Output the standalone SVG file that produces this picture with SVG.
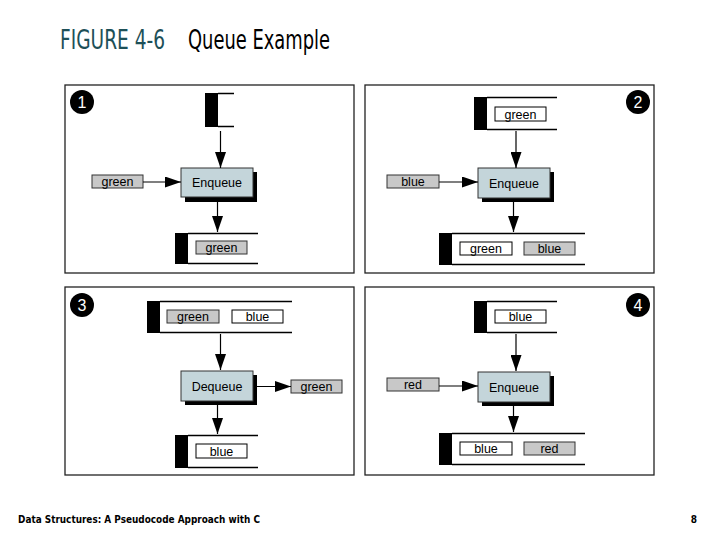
<svg xmlns="http://www.w3.org/2000/svg" width="720" height="540" viewBox="0 0 720 540">
<style>
.panel{fill:#fff;stroke:#222;stroke-width:1.3}
.op{fill:#c4d5da;stroke:#333;stroke-width:1}
.sh{fill:#000}
.gbox{fill:#c8c8c8;stroke:#333;stroke-width:1}
.wbox{fill:#fff;stroke:#000;stroke-width:1}
.lbl{font-family:"Liberation Sans",Arial,sans-serif;font-size:12.5px;fill:#000;text-anchor:middle}
.opl{font-family:"Liberation Sans",Arial,sans-serif;font-size:12.5px;fill:#000;text-anchor:middle}
.num{font-family:"Liberation Sans",Arial,sans-serif;font-size:16px;fill:#fff;text-anchor:middle}
.bar{fill:#000}
.ql{stroke:#000;stroke-width:1.5;fill:none}
.conn{stroke:#000;stroke-width:1.2;fill:none;marker-end:url(#ah)}
</style>
<defs>
<marker id="ah" markerUnits="userSpaceOnUse" markerWidth="16" markerHeight="11" refX="16" refY="5.5" orient="auto">
<path d="M0,0 L16,5.5 L0,11 Z" fill="#000"/>
</marker>
</defs>
<rect width="720" height="540" fill="#fff"/>
<g id="title">
<text x="60" y="49" font-family="DejaVu Sans Condensed, Liberation Sans, sans-serif" font-size="26" fill="#1d5058" textLength="105" lengthAdjust="spacingAndGlyphs">FIGURE 4-6</text>
<text x="188" y="49" font-family="DejaVu Sans Condensed, Liberation Sans, sans-serif" font-size="26" fill="#000" textLength="142" lengthAdjust="spacingAndGlyphs">Queue Example</text>
</g>

<!-- Panel 1 -->
<g id="panel1">
<rect class="panel" x="65" y="85" width="289" height="188"/>
<circle cx="82" cy="102" r="12" fill="#000"/>
<text class="num" x="82" y="108">1</text>
</g>
<g id="p1-queue-in">
<rect class="bar" x="205" y="93" width="13" height="34"/>
<path class="ql" d="M218,93.5 H234 M218,126.5 H234"/>
</g>
<g id="p1-op">
<rect class="sh" x="185" y="172" width="72" height="30"/>
<rect class="op" x="181" y="168" width="72" height="29"/>
<text class="opl" x="217" y="187">Enqueue</text>
</g>
<g id="p1-item">
<rect class="gbox" x="92" y="175" width="51" height="13"/>
<text class="lbl" x="117.5" y="186">green</text>
</g>
<g id="p1-queue-out">
<rect class="bar" x="175" y="233" width="13" height="31"/>
<path class="ql" d="M188,233.5 H258 M188,263.5 H258"/>
<rect class="gbox" x="196" y="241" width="51" height="13"/>
<text class="lbl" x="221.5" y="252">green</text>
</g>

<!-- Panel 2 -->
<g id="panel2">
<rect class="panel" x="365" y="85" width="289" height="188"/>
<circle cx="638" cy="102" r="12" fill="#000"/>
<text class="num" x="638" y="108">2</text>
</g>
<g id="p2-queue-in">
<rect class="bar" x="474" y="97" width="13" height="33"/>
<path class="ql" d="M487,97.5 H557 M487,129.5 H557"/>
<rect class="wbox" x="495" y="107" width="51" height="14"/>
<text class="lbl" x="520.5" y="118.5">green</text>
</g>
<g id="p2-op">
<rect class="sh" x="482" y="172" width="72" height="30"/>
<rect class="op" x="478" y="168" width="72" height="30"/>
<text class="opl" x="514" y="187.5">Enqueue</text>
</g>
<g id="p2-item">
<rect class="gbox" x="387" y="175" width="52" height="13"/>
<text class="lbl" x="413" y="186">blue</text>
</g>
<g id="p2-queue-out">
<rect class="bar" x="439" y="233" width="13" height="32"/>
<path class="ql" d="M452,233.5 H585 M452,264.5 H585"/>
<rect class="wbox" x="460" y="242" width="52" height="13"/>
<text class="lbl" x="486" y="253">green</text>
<rect class="gbox" x="524" y="242" width="51" height="13"/>
<text class="lbl" x="549.5" y="253">blue</text>
</g>

<!-- Panel 3 -->
<g id="panel3">
<rect class="panel" x="65" y="287" width="289" height="188"/>
<circle cx="82" cy="305" r="12" fill="#000"/>
<text class="num" x="82" y="311">3</text>
</g>
<g id="p3-queue-in">
<rect class="bar" x="147" y="301" width="13" height="32"/>
<path class="ql" d="M160,301.5 H292 M160,332.5 H292"/>
<rect class="gbox" x="167" y="310" width="52" height="13"/>
<text class="lbl" x="193" y="321">green</text>
<rect class="wbox" x="232" y="310" width="51" height="13"/>
<text class="lbl" x="257.5" y="321">blue</text>
</g>
<g id="p3-op">
<rect class="sh" x="185" y="375" width="72" height="30"/>
<rect class="op" x="181" y="371" width="72" height="30"/>
<text class="opl" x="217" y="390.5">Dequeue</text>
</g>
<g id="p3-item">
<rect class="gbox" x="291" y="380" width="51" height="13"/>
<text class="lbl" x="316.5" y="391">green</text>
</g>
<g id="p3-queue-out">
<rect class="bar" x="175" y="435" width="13" height="33"/>
<path class="ql" d="M188,435.5 H258 M188,467.5 H258"/>
<rect class="wbox" x="196" y="444" width="51" height="14"/>
<text class="lbl" x="221.5" y="455.5">blue</text>
</g>

<!-- Panel 4 -->
<g id="panel4">
<rect class="panel" x="365" y="287" width="289" height="188"/>
<circle cx="638" cy="305" r="12" fill="#000"/>
<text class="num" x="638" y="311">4</text>
</g>
<g id="p4-queue-in">
<rect class="bar" x="474" y="301" width="13" height="32"/>
<path class="ql" d="M487,301.5 H557 M487,332.5 H557"/>
<rect class="wbox" x="495" y="310" width="51" height="13"/>
<text class="lbl" x="520.5" y="321">blue</text>
</g>
<g id="p4-op">
<rect class="sh" x="482" y="376" width="72" height="30"/>
<rect class="op" x="478" y="372" width="72" height="30"/>
<text class="opl" x="514" y="391.5">Enqueue</text>
</g>
<g id="p4-item">
<rect class="gbox" x="387" y="378" width="52" height="13"/>
<text class="lbl" x="413" y="389">red</text>
</g>
<g id="p4-queue-out">
<rect class="bar" x="439" y="433" width="13" height="32"/>
<path class="ql" d="M452,433.5 H585 M452,464.5 H585"/>
<rect class="wbox" x="460" y="442" width="52" height="13"/>
<text class="lbl" x="486" y="453">blue</text>
<rect class="gbox" x="524" y="442" width="51" height="13"/>
<text class="lbl" x="549.5" y="453">red</text>
</g>

<g id="connectors">
<line class="conn" x1="220.5" y1="131" x2="220.5" y2="168"/>
<line class="conn" x1="143" y1="182" x2="181" y2="182"/>
<line class="conn" x1="217.5" y1="202" x2="217.5" y2="232"/>

<line class="conn" x1="516" y1="131" x2="516" y2="168"/>
<line class="conn" x1="439" y1="182" x2="478" y2="182"/>
<line class="conn" x1="513.5" y1="202" x2="513.5" y2="232"/>

<line class="conn" x1="220.5" y1="334" x2="220.5" y2="370"/>
<line class="conn" x1="257" y1="386.5" x2="291" y2="386.5"/>
<line class="conn" x1="217.5" y1="405" x2="217.5" y2="434"/>

<line class="conn" x1="516" y1="334" x2="516" y2="371"/>
<line class="conn" x1="439" y1="386" x2="478" y2="386"/>
<line class="conn" x1="513.5" y1="406" x2="513.5" y2="432"/>
</g>

<g id="footer">
<text x="18" y="523" font-family="DejaVu Sans Condensed, Liberation Sans, sans-serif" font-weight="bold" font-size="10" fill="#000" textLength="242" lengthAdjust="spacingAndGlyphs">Data Structures: A Pseudocode Approach with C</text>
<text x="697" y="523" font-family="DejaVu Sans Condensed, Liberation Sans, sans-serif" font-weight="bold" font-size="10" fill="#000" text-anchor="end">8</text>
</g>
</svg>
